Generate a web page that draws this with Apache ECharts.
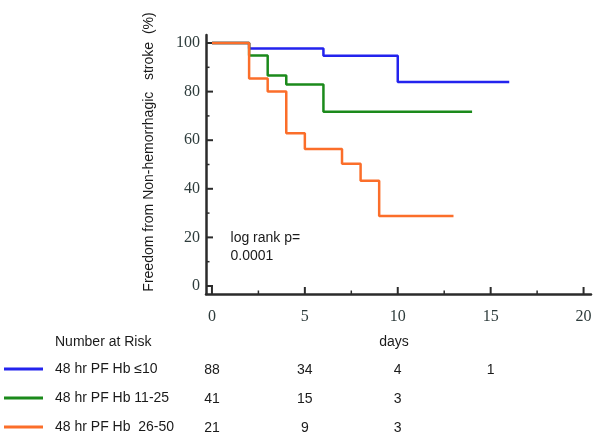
<!DOCTYPE html>
<html>
<head>
<meta charset="utf-8">
<script src="https://cdn.jsdelivr.net/npm/echarts@6/dist/echarts.min.js"></script>
<style>
html,body{margin:0;padding:0;background:#fff;}
#c{width:600px;height:436px;}
</style>
</head>
<body>
<div id="c"></div>
<script>
// ---- data ----
const seriesNames = ['48 hr PF Hb \u226410', '48 hr PF Hb 11-25', '48 hr PF Hb  26-50'];
const blueDays = [0, 2, 6, 10, 16];
const blueSurv = [100, 97.7, 94.8, 84.0, 84.0];
const greenDays = [0, 2, 3, 4, 6, 14];
const greenSurv = [100, 94.9, 86.6, 82.9, 71.7, 71.7];
const orangeDays = [0, 2, 3, 4, 5, 7, 8, 9, 13];
const orangeSurv = [100, 85.4, 80.0, 62.9, 56.4, 50.3, 43.3, 28.8, 28.8];
const xTicks = [0, 5, 10, 15, 20];
const xMinorTicks = [2.5, 7.5, 12.5, 17.5];
const yTicks = [0, 20, 40, 60, 80, 100];
const yMinorTicks = [10, 30, 50, 70, 90];
const riskDays = [0, 5, 10, 15];
const riskLow = [88, 34, 4, 1];
const riskMid = [41, 15, 3, null];
const riskHigh = [21, 9, 3, null];
const pText = ['log rank p=', '0.0001'];

const colors = ['#2323ee', '#1b8a1b', '#fb6e2a'];
const axisColor = '#2b2b2b';
const labelColor = '#2e3c3c';

function pairs(xs, ys) { return xs.map((x, i) => [x, ys[i]]); }

const chart = echarts.init(document.getElementById('c'), null, {renderer: 'canvas', width: 600, height: 436});

const xMin = -0.32, xMax = 20.4, yMin = -3.3, yMax = 103.3;
const rowY = [369, 398, 427];

const legendTpl = (name, r) => ({
  orient: 'horizontal', left: 4, top: rowY[r] - 7, itemWidth: 39, itemHeight: 3,
  icon: 'rect', selectedMode: false, padding: 0,
  textStyle: {fontFamily: 'Liberation Sans', fontSize: 14, color: '#1a1a1a', padding: [0, 0, 0, 7]},
  data: [name]
});

// tick marks: [value along axis, kind (0 = x, 1 = y), length, width]
const tickData = []
  .concat(xTicks.map(v => [v, 0, 7, 2]))
  .concat(xMinorTicks.map(v => [v, 0, 3.5, 1.5]))
  .concat(yTicks.map(v => [v, 1, 7, 2]))
  .concat(yMinorTicks.map(v => [v, 1, 3.5, 1.5]));

function renderTick(params, api) {
  const v = api.value(0), kind = api.value(1), len = api.value(2), w = api.value(3);
  let shape;
  if (kind === 0) {
    const p = api.coord([v, yMin]);
    shape = {x1: p[0], y1: p[1], x2: p[0], y2: p[1] - len};
  } else {
    const p = api.coord([xMin, v]);
    shape = {x1: p[0], y1: p[1], x2: p[0] + len, y2: p[1]};
  }
  return {type: 'line', shape: shape, style: {stroke: axisColor, lineWidth: w}};
}

const option = {
  backgroundColor: '#ffffff',
  animation: false,
  grid: {left: 206, right: 9, top: 35, bottom: 142},
  legend: seriesNames.map((n, r) => legendTpl(n, r)),
  xAxis: {
    type: 'value', min: xMin, max: xMax,
    axisLine: {show: true, onZero: false, lineStyle: {color: axisColor, width: 2.5}},
    axisTick: {show: false},
    axisLabel: {customValues: xTicks, margin: 15, fontFamily: 'Liberation Serif', fontSize: 16, color: labelColor},
    splitLine: {show: false}
  },
  yAxis: {
    type: 'value', min: yMin, max: yMax,
    axisLine: {show: true, onZero: false, lineStyle: {color: axisColor, width: 2.5}},
    axisTick: {show: false},
    axisLabel: {customValues: yTicks, margin: 6, fontFamily: 'Liberation Serif', fontSize: 16, color: labelColor},
    splitLine: {show: false}
  },
  series: [
    {type: 'custom', renderItem: renderTick, data: tickData, clip: false, silent: true, z: 1,
     encode: {x: -1, y: -1}},
    {name: seriesNames[0], type: 'line', step: 'end', data: pairs(blueDays, blueSurv), showSymbol: false, color: colors[0], lineStyle: {width: 2.5, color: colors[0]}, z: 2},
    {name: seriesNames[1], type: 'line', step: 'end', data: pairs(greenDays, greenSurv), showSymbol: false, color: colors[1], lineStyle: {width: 2.5, color: colors[1]}, z: 2},
    {name: seriesNames[2], type: 'line', step: 'end', data: pairs(orangeDays, orangeSurv), showSymbol: false, color: colors[2], lineStyle: {width: 2.5, color: colors[2]}, z: 2}
  ]
};
chart.setOption(option);

// text placed via the library's scales
const riskRows = [riskLow, riskMid, riskHigh];
const g = [];
riskRows.forEach((row, r) => {
  row.forEach((v, i) => {
    if (v === null) return;
    const px = chart.convertToPixel({xAxisIndex: 0}, riskDays[i]);
    g.push({type: 'text', x: px, y: rowY[r] + 1, style: {text: String(v), fontFamily: 'Liberation Sans', fontSize: 14, fill: '#1a1a1a', align: 'center', verticalAlign: 'middle'}});
  });
});
const pPos = chart.convertToPixel({xAxisIndex: 0, yAxisIndex: 0}, [1, 20]);
g.push({type: 'text', x: pPos[0], y: pPos[1] - 8, style: {text: pText.join('\n'), fontFamily: 'Liberation Sans', fontSize: 14, lineHeight: 18, fill: '#1a1a1a', align: 'left', verticalAlign: 'top'}});
g.push({type: 'text', x: 394, y: 342, style: {text: 'days', fontFamily: 'Liberation Sans', fontSize: 14, fill: '#1a1a1a', align: 'center', verticalAlign: 'middle'}});
g.push({type: 'text', x: 55, y: 342, style: {text: 'Number at Risk', fontFamily: 'Liberation Sans', fontSize: 14, fill: '#1a1a1a', align: 'left', verticalAlign: 'middle'}});
g.push({type: 'text', x: 149, y: 152, rotation: Math.PI / 2, style: {text: 'Freedom from Non-hemorrhagic   stroke  (%)', fontFamily: 'Liberation Sans', fontSize: 14, fill: '#1a1a1a', align: 'center', verticalAlign: 'middle'}});
chart.setOption({graphic: g});
</script>
</body>
</html>
